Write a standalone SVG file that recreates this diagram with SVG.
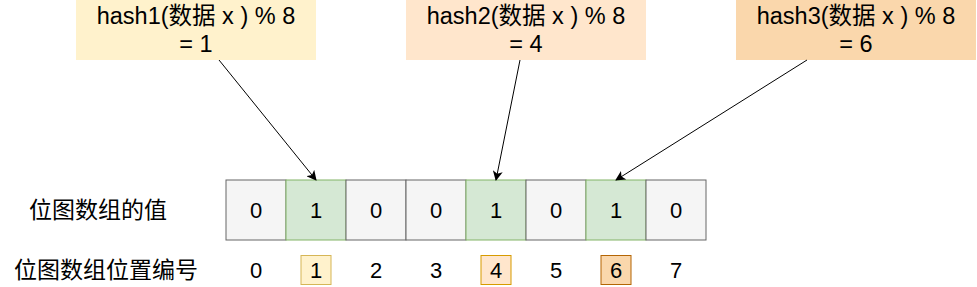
<svg xmlns="http://www.w3.org/2000/svg" width="977" height="287" viewBox="0 0 977 287">
<defs>
<style>
text{font-family:"Liberation Sans","Noto Sans CJK SC",sans-serif;fill:#000;text-anchor:middle}
.h{font-size:23.5px}
.d{font-size:22px}
.l{font-size:23px}
.c0{fill:#f5f5f5;stroke:#666666;stroke-width:1}
.c1{fill:#d5e8d4;stroke:#82b366;stroke-width:1}
.e{stroke:#000;stroke-width:1;fill:none;marker-end:url(#arr)}
</style>
<marker id="arr" viewBox="0 0 10 10" refX="9" refY="5" markerWidth="10" markerHeight="10" markerUnits="userSpaceOnUse" orient="auto">
<path d="M0,0 L10,5 L0,10 L2.5,5 Z" fill="#000"/>
</marker>
</defs>
<rect width="977" height="287" fill="#fff"/>
<g id="hash1">
<rect x="76" y="0" width="240" height="60" fill="#fff2cc"/>
<text class="h" x="196" y="24">hash1(数据 x ) % 8</text>
<text class="h" x="196" y="52">= 1</text>
</g>
<g id="hash2">
<rect x="406" y="0" width="240" height="60" fill="#ffe6cc"/>
<text class="h" x="526" y="24">hash2(数据 x ) % 8</text>
<text class="h" x="526" y="52">= 4</text>
</g>
<g id="hash3">
<rect x="736" y="0" width="240" height="60" fill="#fad7ac"/>
<text class="h" x="856" y="24">hash3(数据 x ) % 8</text>
<text class="h" x="856" y="52">= 6</text>
</g>
<g id="label-values"><text class="l" x="98" y="218">位图数组的值</text></g>
<g id="label-index"><text class="l" x="106" y="278">位图数组位置编号</text></g>
<g id="cells">
<rect class="c0" x="226" y="180" width="60" height="60"/>
<rect class="c1" x="286" y="180" width="60" height="60"/>
<rect class="c0" x="346" y="180" width="60" height="60"/>
<rect class="c0" x="406" y="180" width="60" height="60"/>
<rect class="c1" x="466" y="180" width="60" height="60"/>
<rect class="c0" x="526" y="180" width="60" height="60"/>
<rect class="c1" x="586" y="180" width="60" height="60"/>
<rect class="c0" x="646" y="180" width="60" height="60"/>
<text class="d" x="256" y="218">0</text>
<text class="d" x="316" y="218">1</text>
<text class="d" x="376" y="218">0</text>
<text class="d" x="436" y="218">0</text>
<text class="d" x="496" y="218">1</text>
<text class="d" x="556" y="218">0</text>
<text class="d" x="616" y="218">1</text>
<text class="d" x="676" y="218">0</text>
</g>
<g id="indices">
<rect x="301" y="255.5" width="30" height="29" fill="#fff2cc" stroke="#d6b656"/>
<rect x="481" y="255.5" width="30" height="29" fill="#ffe6cc" stroke="#d79b00"/>
<rect x="601" y="255.5" width="30" height="29" fill="#fad7ac" stroke="#b46504"/>
<text class="d" x="256" y="278">0</text>
<text class="d" x="316" y="278">1</text>
<text class="d" x="376" y="278">2</text>
<text class="d" x="436" y="278">3</text>
<text class="d" x="496" y="278">4</text>
<text class="d" x="556" y="278">5</text>
<text class="d" x="616" y="278">6</text>
<text class="d" x="676" y="278">7</text>
</g>
<g id="connectors">
<line class="e" x1="219" y1="60" x2="316" y2="180"/>
<line class="e" x1="520" y1="60" x2="496" y2="180"/>
<line class="e" x1="807" y1="60" x2="616" y2="180"/>
</g>
</svg>
